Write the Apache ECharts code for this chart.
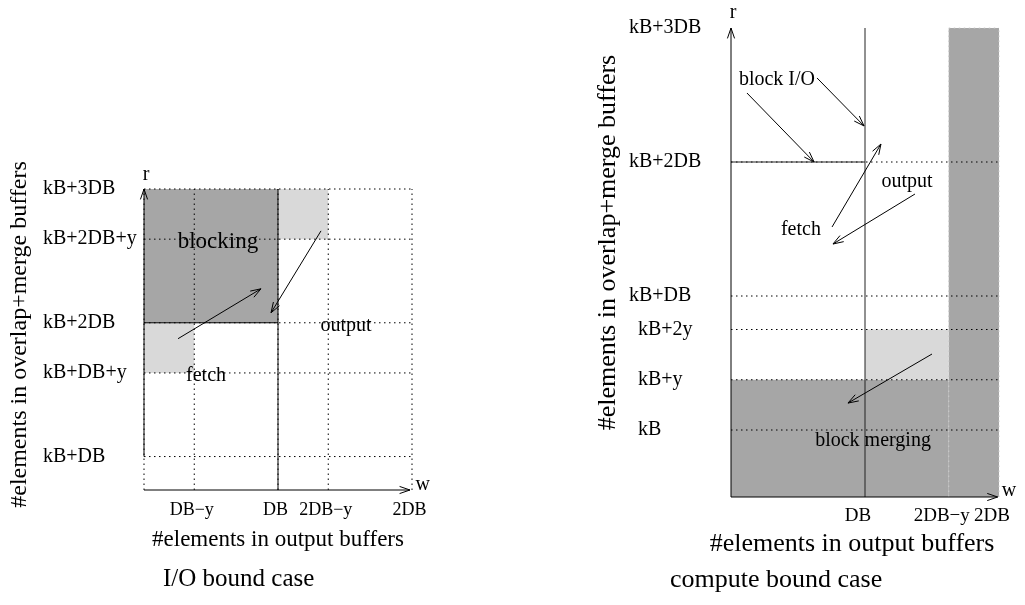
<!DOCTYPE html>
<html>
<head>
<meta charset="utf-8">
<script src="https://cdn.jsdelivr.net/npm/echarts@6/dist/echarts.min.js"></script>
<style>
html, body { margin: 0; padding: 0; background: #fff; }
#chart { width: 1025px; height: 605px; }
</style>
</head>
<body>
<div id="chart"></div>
<script>
var FONT = '"Liberation Serif", "Times New Roman", serif';

// left panel (I/O bound case): w and r in units of DB, r counted from kB
var ioXTicks  = [0.375, 1, 1.375, 2];
var ioXLabels = ['DB−y', 'DB', '2DB−y', '2DB'];
var ioYTicks  = [1, 1.625, 2, 2.625, 3];
var ioYLabels = ['kB+DB', 'kB+DB+y', 'kB+2DB', 'kB+2DB+y', 'kB+3DB'];
var ioDark    = [[0, 2, 1, 3]];
var ioLight   = [[1, 2.625, 1.375, 3], [0, 1.625, 0.375, 2]];
var ioSolid   = [[1, 0.75, 1, 3], [0, 2, 1, 2]];
var ioArrows  = [[0, 1, 0, 3], [0, 0.75, 1.985, 0.75], [0.254, 1.881, 0.873, 2.254], [1.321, 2.687, 0.948, 2.075]];
var ioNotes   = [[0.552, 2.604, 'blocking'], [0.463, 1.604, 'fetch'], [1.507, 1.978, 'output'], [0.015, 3.104, 'r'], [2.08, 0.791, 'w']];

// right panel (compute bound case)
var cbXTicks  = [1, 1.625, 2];
var cbXLabels = ['DB', '2DB−y', '2DB'];
var cbYTicks  = [0, 0.375, 0.75, 1, 2, 3];
var cbYLabels = ['kB', 'kB+y', 'kB+2y', 'kB+DB', 'kB+2DB', 'kB+3DB'];
var cbDark    = [[0, -0.5, 1.625, 0.375], [1.625, -0.5, 2, 3]];
var cbLight   = [[1, 0.375, 1.625, 0.75]];
var cbSolid   = [[1, -0.5, 1, 3], [0, 2, 1, 2]];
var cbArrows  = [[0, -0.5, 0, 3], [0, -0.5, 1.99, -0.5], [0.119, 2.515, 0.62, 2.0], [0.642, 2.627, 0.993, 2.269],
                 [0.754, 1.515, 1.119, 2.134], [1.373, 1.761, 0.761, 1.388], [1.5, 0.567, 0.873, 0.201]];
var cbNotes   = [[0.343, 2.612, 'block I/O'], [0.522, 1.493, 'fetch'], [1.313, 1.851, 'output'], [1.06, -0.082, 'block merging'],
                 [0.015, 3.112, 'r'], [2.075, -0.455, 'w']];

// dotted guide lines follow the tick positions
var ioDotted = ioYTicks.map(function(v) { return [0, v, 2, v]; })
    .concat([0].concat(ioXTicks).map(function(v) { return [v, 0.75, v, 3]; }));
var cbDotted = cbYTicks.filter(function(v) { return v < 3; }).map(function(v) { return [0, v, 2, v]; });
// edges of the right grey bar
var cbEdges = cbXTicks.filter(function(v) { return v > 1; }).map(function(v) { return [v, -0.5, v, 3]; })
    .concat([[1.625, 3, 2, 3]]);

function lookup(ticks, labels)
{
    return function(v)
    {
        for(var i = 0; i < ticks.length; i++) if(Math.abs(ticks[i] - v) < 1e-6) return labels[i];
        return '';
    };
}

function rectItem(params, api)
{
    var a = api.coord([api.value(0), api.value(3)]);
    var b = api.coord([api.value(2), api.value(1)]);
    return {
        type: 'rect',
        shape: {x: a[0], y: a[1], width: b[0] - a[0], height: b[1] - a[1]},
        style: {fill: api.visual('color')}
    };
}

function segmentItem(stroke, dash)
{
    return function(params, api)
    {
        var a = api.coord([api.value(0), api.value(1)]);
        var b = api.coord([api.value(2), api.value(3)]);
        return {
            type: 'line',
            shape: {x1: a[0], y1: a[1], x2: b[0], y2: b[1]},
            style: {stroke: stroke, lineWidth: 1, lineDash: dash}
        };
    };
}

function arrowItem(params, api)
{
    var a = api.coord([api.value(0), api.value(1)]);
    var b = api.coord([api.value(2), api.value(3)]);
    var ang = Math.atan2(b[1] - a[1], b[0] - a[0]);
    var len = 11, spread = 0.33;
    var h1 = [b[0] - len * Math.cos(ang - spread), b[1] - len * Math.sin(ang - spread)];
    var h2 = [b[0] - len * Math.cos(ang + spread), b[1] - len * Math.sin(ang + spread)];
    return {
        type: 'group',
        children: [
            {type: 'line', shape: {x1: a[0], y1: a[1], x2: b[0], y2: b[1]}, style: {stroke: '#000', lineWidth: 1}},
            {type: 'polyline', shape: {points: [h1, b, h2]}, style: {stroke: '#000', lineWidth: 1, fill: null}}
        ]
    };
}

function noteItem(notes)
{
    return function(params, api)
    {
        var p = api.coord([api.value(0), api.value(1)]);
        var t = notes[params.dataIndex][2];
        return {
            type: 'text',
            x: p[0],
            y: p[1],
            style: {
                text: t,
                fontSize: t == 'blocking' ? 23 : 20,
                fontFamily: FONT,
                fill: '#000',
                align: 'center',
                verticalAlign: 'middle'
            }
        };
    };
}

function layer(name, idx, data, render, z, color)
{
    return {
        name: name,
        type: 'custom',
        xAxisIndex: idx,
        yAxisIndex: idx,
        renderItem: render,
        data: data,
        z: z,
        silent: true,
        itemStyle: color ? {color: color} : undefined
    };
}

function points(notes) { return notes.map(function(n) { return [n[0], n[1]]; }); }

var series = [];
series.push(layer('ioDark', 0, ioDark, rectItem, 1, '#a6a6a6'));
series.push(layer('ioLight', 0, ioLight, rectItem, 1, '#d9d9d9'));
series.push(layer('ioDotted', 0, ioDotted, segmentItem('#000', [1.5, 3.5]), 2));
series.push(layer('ioSolid', 0, ioSolid, segmentItem('#000', null), 3));
series.push(layer('ioArrows', 0, ioArrows, arrowItem, 4));
series.push(layer('ioNotes', 0, points(ioNotes), noteItem(ioNotes), 5));
series.push(layer('cbDark', 1, cbDark, rectItem, 1, '#a6a6a6'));
series.push(layer('cbLight', 1, cbLight, rectItem, 1, '#d9d9d9'));
series.push(layer('cbDotted', 1, cbDotted, segmentItem('#000', [1.5, 3.5]), 2));
series.push(layer('cbEdges', 1, cbEdges, segmentItem('#ccc', [1.5, 3.5]), 2));
series.push(layer('cbSolid', 1, cbSolid, segmentItem('#222', null), 3));
series.push(layer('cbArrows', 1, cbArrows, arrowItem, 4));
series.push(layer('cbNotes', 1, points(cbNotes), noteItem(cbNotes), 5));

var titleStyle = {fontSize: 25, fontWeight: 'normal', fontFamily: FONT, color: '#000'};

var chart = echarts.init(document.getElementById('chart'));
var option = {
    animation: false,
    title: [
        {text: 'I/O bound case', left: 158, top: 562, textStyle: titleStyle},
        {text: 'compute bound case', left: 665, top: 562, textStyle: {fontSize: 26, fontWeight: 'normal', fontFamily: FONT, color: '#000'}}
    ],
    grid: [
        {left: 144, top: 189, width: 268, height: 301},
        {left: 731, top: 28, width: 268, height: 469}
    ],
    xAxis: [
        {
            gridIndex: 0, type: 'value', min: 0, max: 2,
            axisLine: {show: false}, axisTick: {show: false}, splitLine: {show: false},
            axisLabel: {customValues: ioXTicks, formatter: lookup(ioXTicks, ioXLabels), fontSize: 18, fontFamily: FONT, color: '#000', margin: 11, padding: [0, 5, 0, 0]},
            name: '#elements in output buffers', nameLocation: 'middle', nameGap: 38,
            nameTextStyle: {fontSize: 23, fontFamily: FONT, color: '#000'}
        },
        {
            gridIndex: 1, type: 'value', min: 0, max: 2,
            axisLine: {show: false}, axisTick: {show: false}, splitLine: {show: false},
            axisLabel: {customValues: cbXTicks, formatter: lookup(cbXTicks, cbXLabels), fontSize: 19, fontFamily: FONT, color: '#000', margin: 10, padding: [0, 14, 0, 0]},
            name: '#elements in output buffers', nameLocation: 'middle', nameGap: 30,
            nameTextStyle: {fontSize: 26, fontFamily: FONT, color: '#000', padding: [0, 26, 0, 0]}
        }
    ],
    yAxis: [
        {
            gridIndex: 0, type: 'value', min: 0.75, max: 3,
            axisLine: {show: false}, axisTick: {show: false}, splitLine: {show: false},
            axisLabel: {customValues: ioYTicks, formatter: lookup(ioYTicks, ioYLabels), fontSize: 20, fontFamily: FONT, color: '#000', margin: 101, align: 'left'},
            name: '#elements in overlap+merge buffers', nameLocation: 'middle', nameGap: 112, nameRotate: 90,
            nameTextStyle: {fontSize: 24, fontFamily: FONT, color: '#000', padding: [0, 0, 0, 10]}
        },
        {
            gridIndex: 1, type: 'value', min: -0.5, max: 3,
            axisLine: {show: false}, axisTick: {show: false}, splitLine: {show: false},
            axisLabel: {
                customValues: cbYTicks, fontSize: 20, fontFamily: FONT, color: '#000', margin: 102, align: 'left',
                formatter: function(v)
                {
                    var s = lookup(cbYTicks, cbYLabels)(v);
                    return s.indexOf('DB') < 0 ? '{p|' + s + '}' : s;
                },
                rich: {p: {fontSize: 20, fontFamily: FONT, color: '#000', padding: [0, 0, 0, 9]}}
            },
            name: '#elements in overlap+merge buffers', nameLocation: 'middle', nameGap: 110, nameRotate: 90,
            nameTextStyle: {fontSize: 26, fontFamily: FONT, color: '#000', padding: [0, 0, 0, 40]}
        }
    ],
    series: series
};
option && chart.setOption(option);
</script>
</body>
</html>
